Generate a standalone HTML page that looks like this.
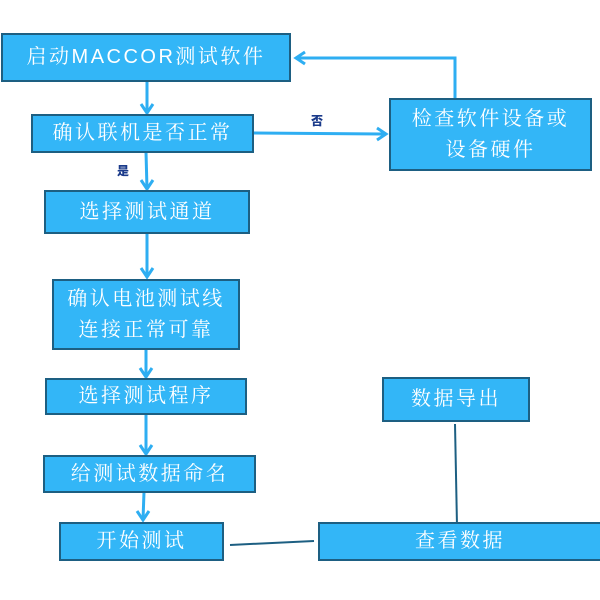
<!DOCTYPE html>
<html><head><meta charset="utf-8"><style>
body{margin:0;width:600px;height:600px;background:#fff;position:relative;overflow:hidden;font-family:"Liberation Sans","Noto Serif CJK SC",serif;}
.b{position:absolute;box-sizing:border-box;background:#33b6f7;border:2px solid #1d5f82;color:#fff;display:flex;align-items:center;justify-content:center;text-align:center;font-size:20px;line-height:31px;letter-spacing:2.5px;}
svg{position:absolute;left:0;top:0}
.l{position:absolute;font-size:12px;font-weight:900;color:#1a3a8a;font-family:"Noto Sans CJK SC",sans-serif;}
</style></head><body>
<svg width="600" height="600">
<g stroke="#2eaef2" stroke-width="3" fill="none">
<line x1="147" y1="81" x2="147" y2="113"/><polyline points="141,104 147,113 153,104"/>
<line x1="253" y1="133" x2="386" y2="134"/><polyline points="377,128 386,134 377,140"/>
<polyline points="455,98 455,58 296,58"/><polyline points="305,52 296,58 305,64"/>
<line x1="146" y1="152" x2="147" y2="189"/><polyline points="141,180 147,189 153,180"/>
<line x1="147" y1="233" x2="147" y2="277"/><polyline points="141,268 147,277 153,268"/>
<line x1="146" y1="349" x2="146" y2="377"/><polyline points="140,368 146,377 152,368"/>
<line x1="146" y1="414" x2="146" y2="454"/><polyline points="140,445 146,454 152,445"/>
<line x1="144" y1="492" x2="143" y2="520"/><polyline points="137,511 143,520 149,511"/>
</g>
<g stroke="#1d5f82" stroke-width="2">
<line x1="230" y1="545" x2="314" y2="541"/>
<line x1="455" y1="424" x2="457" y2="526"/>
</g>
</svg>
<div class="b" style="left:1px;top:33px;width:290px;height:49px">启动MACCOR测试软件</div>
<div class="b" style="left:31px;top:114px;width:223px;height:39px">确认联机是否正常</div>
<div class="b" style="left:389px;top:98px;width:203px;height:73px">检查软件设备或<br>设备硬件</div>
<div class="b" style="left:44px;top:190px;width:206px;height:44px">选择测试通道</div>
<div class="b" style="left:52px;top:279px;width:188px;height:71px">确认电池测试线<br>连接正常可靠</div>
<div class="b" style="left:45px;top:378px;width:202px;height:37px">选择测试程序</div>
<div class="b" style="left:43px;top:455px;width:213px;height:38px">给测试数据命名</div>
<div class="b" style="left:59px;top:522px;width:165px;height:39px">开始测试</div>
<div class="b" style="left:318px;top:522px;width:284px;height:39px">查看数据</div>
<div class="b" style="left:382px;top:377px;width:148px;height:45px">数据导出</div>
<div class="l" style="left:311px;top:112px">否</div>
<div class="l" style="left:117px;top:162px">是</div>
</body></html>
